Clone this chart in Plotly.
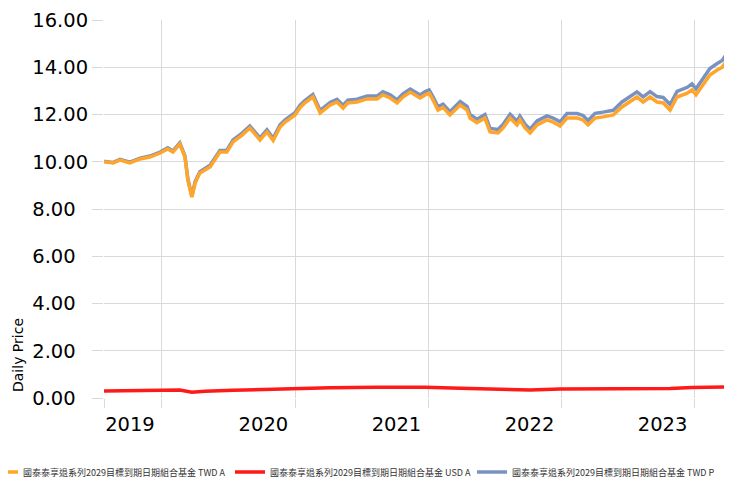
import plotly.graph_objects as go

dates = [
    "2019-07-26", "2019-07-29", "2019-08-20", "2019-09-08", "2019-10-05", "2019-11-02",
    "2019-11-29", "2019-12-27", "2020-01-17", "2020-01-31", "2020-02-19", "2020-03-04",
    "2020-03-12", "2020-03-23", "2020-04-01", "2020-04-14", "2020-04-28", "2020-05-12",
    "2020-06-08", "2020-06-27", "2020-07-14", "2020-08-08", "2020-08-29", "2020-09-26",
    "2020-10-15", "2020-11-01", "2020-11-20", "2020-12-04", "2020-12-31", "2021-01-14",
    "2021-01-27", "2021-02-18", "2021-03-10", "2021-03-23", "2021-04-06", "2021-04-25",
    "2021-05-12", "2021-05-25", "2021-06-19", "2021-07-17", "2021-08-13", "2021-08-29",
    "2021-09-18", "2021-10-07", "2021-10-23", "2021-11-12", "2021-11-25", "2021-12-09",
    "2021-12-23", "2022-01-03", "2022-01-14", "2022-01-27", "2022-02-10", "2022-03-01",
    "2022-03-29", "2022-04-17", "2022-04-25", "2022-05-14", "2022-06-05", "2022-06-19",
    "2022-07-11", "2022-07-25", "2022-08-13", "2022-09-01", "2022-09-09", "2022-09-23",
    "2022-10-07", "2022-10-26", "2022-11-22", "2022-12-09", "2022-12-28", "2023-01-16",
    "2023-02-13", "2023-03-01", "2023-03-15", "2023-04-03", "2023-04-25", "2023-05-23",
    "2023-06-16", "2023-07-08", "2023-07-27", "2023-08-13", "2023-09-01", "2023-09-20",
    "2023-10-07", "2023-10-26", "2023-11-14", "2023-12-12", "2023-12-25", "2024-01-05",
    "2024-01-25", "2024-02-12", "2024-03-03", "2024-03-17", "2024-03-25",
]

twd_a = [
    10.00, 9.99, 9.95, 10.07, 9.95, 10.12,
    10.20, 10.37, 10.54, 10.41, 10.75, 10.20,
    9.23, 8.50, 9.10, 9.52, 9.65, 9.78,
    10.41, 10.41, 10.84, 11.13, 11.43, 10.92,
    11.26, 10.90, 11.47, 11.68, 11.98, 12.30,
    12.49, 12.74, 12.06, 12.23, 12.40, 12.53,
    12.27, 12.49, 12.53, 12.66, 12.66, 12.83,
    12.70, 12.49, 12.74, 12.95, 12.83, 12.70,
    12.83, 12.90, 12.60, 12.19, 12.30, 11.98,
    12.40, 12.19, 11.85, 11.65, 11.85, 11.26,
    11.22, 11.43, 11.85, 11.56, 11.77, 11.43,
    11.22, 11.56, 11.77, 11.68, 11.51, 11.85,
    11.85, 11.77, 11.56, 11.85, 11.90, 11.98,
    12.32, 12.53, 12.74, 12.53, 12.74, 12.53,
    12.49, 12.19, 12.74, 12.90, 13.04, 12.83,
    13.25, 13.67, 13.88, 14.00, 14.18,
]

twd_p = [
    10.01, 10.01, 9.97, 10.10, 9.98, 10.15,
    10.24, 10.41, 10.59, 10.46, 10.80, 10.25,
    9.28, 8.55, 9.16, 9.58, 9.72, 9.85,
    10.48, 10.49, 10.92, 11.21, 11.51, 11.01,
    11.35, 10.99, 11.56, 11.77, 12.08, 12.40,
    12.59, 12.85, 12.17, 12.34, 12.51, 12.64,
    12.39, 12.61, 12.65, 12.78, 12.78, 12.96,
    12.83, 12.62, 12.87, 13.08, 12.96, 12.83,
    12.97, 13.04, 12.74, 12.33, 12.44, 12.12,
    12.55, 12.34, 12.00, 11.80, 12.00, 11.41,
    11.37, 11.59, 12.01, 11.72, 11.93, 11.59,
    11.38, 11.73, 11.94, 11.85, 11.69, 12.04,
    12.04, 11.96, 11.75, 12.05, 12.10, 12.18,
    12.53, 12.75, 12.96, 12.75, 12.97, 12.76,
    12.72, 12.42, 12.98, 13.15, 13.30, 13.09,
    13.52, 13.95, 14.16, 14.29, 14.48,
]

usd_dates = [
    "2019-07-26", "2019-10-05", "2019-12-27", "2020-02-19", "2020-03-23", "2020-04-28",
    "2020-07-14", "2020-10-15", "2020-12-31", "2021-04-06", "2021-08-13", "2021-12-23",
    "2022-03-29", "2022-06-19", "2022-10-07", "2022-12-28", "2023-04-03", "2023-07-27",
    "2023-10-26", "2023-12-25", "2024-03-25",
]
usd_a = [
    0.30, 0.31, 0.33, 0.34, 0.24, 0.29,
    0.33, 0.37, 0.41, 0.43, 0.45, 0.45,
    0.41, 0.37, 0.34, 0.38, 0.38, 0.41,
    0.40, 0.44, 0.47,
]

names = [
    "國泰泰享退系列2029目標到期日期組合基金 TWD A",
    "國泰泰享退系列2029目標到期日期組合基金 USD A",
    "國泰泰享退系列2029目標到期日期組合基金 TWD P",
]
colors = ["#FFA52A", "#FF1A1A", "#7A92C2"]

x_range = ["2019-07-26", "2024-03-30"]
year_ticks = ["2020-01-01", "2021-01-01", "2022-01-01", "2023-01-01", "2024-01-01"]
year_labels = ["2019", "2020", "2021", "2022", "2023"]
y_ticks = [0, 2, 4, 6, 8, 10, 12, 14, 16]

fig = go.Figure()
fig.add_trace(go.Scatter(x=dates, y=twd_p, name=names[2], mode="lines",
                         line=dict(color=colors[2], width=3.5), legend="legend3"))
fig.add_trace(go.Scatter(x=dates, y=twd_a, name=names[0], mode="lines",
                         line=dict(color=colors[0], width=3.5), legend="legend"))
fig.add_trace(go.Scatter(x=usd_dates, y=usd_a, name=names[1], mode="lines",
                         line=dict(color=colors[1], width=3.5), legend="legend2"))

FS = "\u2007"
y_text = [(f"{v:.2f}" + (FS if v < 10 else "")) for v in y_ticks]

# page has an 8px body margin: figure is 724x471 placed at (8, 8)
OFF = 8
W, H = 732 - OFF, 479 - OFF
PL, PW, PT, PH = 104 - OFF, 623, 20 - OFF, 378
grid = "#D9D9D9"


def legend_at(text_left_px):
    # legend item text begins 40px right of the legend's left edge
    return dict(orientation="h", x=(text_left_px - OFF - 40 - PL) / PW, xanchor="left",
                y=(PT + PH - (472 - OFF)) / PH, yanchor="middle",
                font=dict(family="Noto Sans CJK TC", size=9, color="#333333"),
                itemwidth=30, bgcolor="rgba(0,0,0,0)")


fig.update_layout(
    width=W, height=H,
    margin=dict(l=PL, r=W - PL - PW, t=PT, b=H - PT - PH, autoexpand=False),
    paper_bgcolor="white", plot_bgcolor="white",
    font=dict(family="DejaVu Sans", color="#000000"),
    showlegend=True,
    legend=legend_at(23),
    legend2=legend_at(270),
    legend3=legend_at(512),
    xaxis=dict(
        type="date", range=x_range, automargin=False,
        tickmode="array", tickvals=[x_range[0]] + year_ticks + [x_range[1]],
        ticktext=[""] + year_labels + [""],
        ticklabelshift=-32,
        showgrid=True, gridcolor=grid, gridwidth=1,
        ticks="outside", ticklen=9, tickcolor=grid,
        showline=False, zeroline=False,
        tickfont=dict(size=19.5, family="DejaVu Sans", color="#000000"),
    ),
    yaxis=dict(
        range=[0, 16], tickmode="array", tickvals=y_ticks, ticktext=y_text,
        automargin=False,
        showgrid=True, gridcolor=grid, gridwidth=1,
        ticks="outside", ticklen=11, tickcolor=grid,
        showline=False, zeroline=False,
        tickfont=dict(size=19.5, family="DejaVu Sans", color="#000000"),
    ),
    annotations=[dict(
        text="Daily Price", textangle=-90, xref="paper", yref="paper",
        x=(18 - OFF - PL) / PW, y=(PT + PH - (355 - OFF)) / PH,
        xanchor="center", yanchor="middle",
        showarrow=False, font=dict(family="DejaVu Sans", size=14, color="#000000"),
    )],
)

fig.write_html("out.html")
